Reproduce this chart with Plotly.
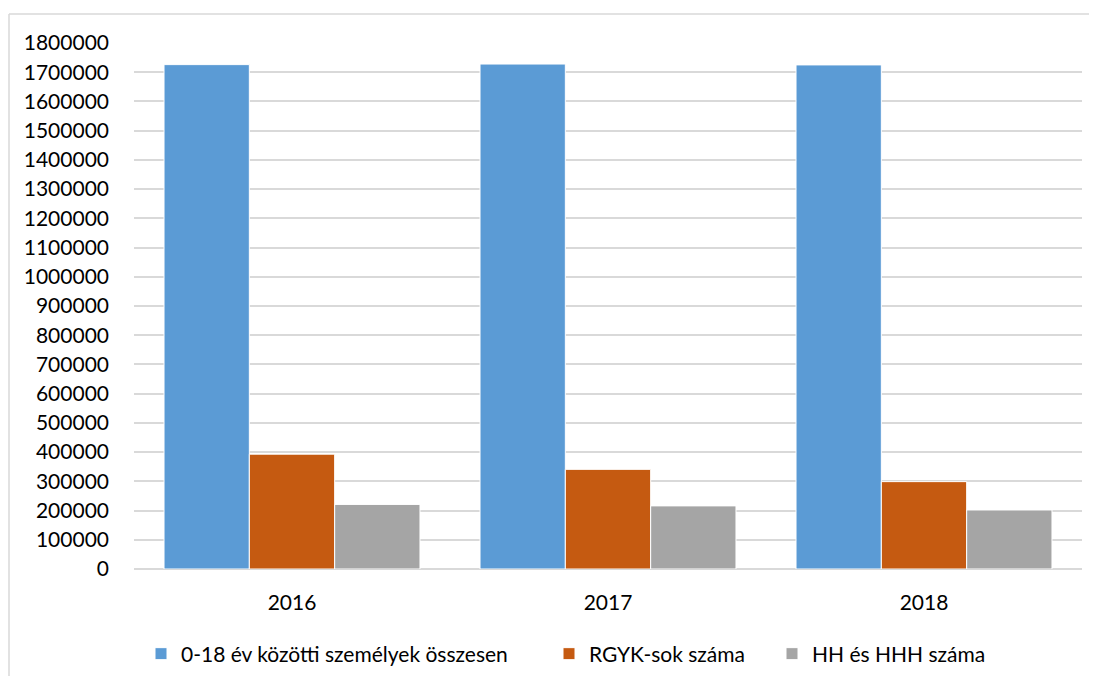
import plotly.graph_objects as go

years = ["2016", "2017", "2018"]
series_names = ["0-18 év közötti személyek összesen", "RGYK-sok száma", "HH és HHH száma"]
total_0_18 = [1726000, 1728000, 1725000]
rgyk = [393000, 341000, 299000]
hh_hhh = [221000, 216000, 202000]
colors = ["#5B9BD5", "#C55A11", "#A5A5A5"]
y_ticks = list(range(0, 1800001, 100000))

FONT = "Lato"
OFF = 8  # browser body margin
W, H = 1097 - OFF, 684 - 2 * OFF
ML, MR, MT = 134 - OFF, 15, 43 - OFF
PH_TARGET = 569 - 43
MB = H - MT - PH_TARGET
PW, PH = W - ML - MR, PH_TARGET

def px_x(px):
    # px in reference (window) coordinates
    return (px - OFF - ML) / PW

def px_y(py):
    return (569 - py) / PH

fig = go.Figure()
legends = ["legend", "legend2", "legend3"]
for name, vals, col, lg in zip(series_names, [total_0_18, rgyk, hh_hhh], colors, legends):
    fig.add_trace(go.Bar(
        x=years, y=vals, name=name,
        marker=dict(color=col, line=dict(color="white", width=1)),
        legend=lg,
    ))

leg_common = dict(orientation="h", yanchor="middle", xanchor="left",
                  font=dict(family=FONT, size=21, color="#000000"),
                  bgcolor="rgba(0,0,0,0)", borderwidth=0)
sq_centers = [160, 568, 791]
layout_leg = {}
for lg, cx in zip(legends, sq_centers):
    layout_leg[lg] = dict(leg_common, x=px_x(cx - 19), y=px_y(654))

fig.update_layout(
    width=W, height=H,
    margin=dict(l=ML, r=MR, t=MT, b=MB, autoexpand=False),
    paper_bgcolor="white", plot_bgcolor="white",
    barmode="group", bargap=0.19, bargroupgap=0.0,
    font=dict(family=FONT, size=21, color="#000000"),
    xaxis=dict(showgrid=False, showline=False, ticks="", ticklabelstandoff=19,
               tickfont=dict(family=FONT, size=21, color="#000000")),
    yaxis=dict(range=[0, 1800000], tickvals=y_ticks, ticktext=[str(v) for v in y_ticks],
               showgrid=True, gridcolor="#D9D9D9", gridwidth=1.5,
               zeroline=True, zerolinecolor="#D9D9D9", zerolinewidth=1.5,
               showline=False, ticks="", ticklabelstandoff=24,
               tickfont=dict(family=FONT, size=21, color="#000000")),
    showlegend=True,
    **layout_leg,
    shapes=[
        dict(type="line", xref="paper", yref="paper", x0=px_x(9), x1=px_x(1097), y0=px_y(14), y1=px_y(14),
             line=dict(color="#D9D9D9", width=1.5)),
        dict(type="line", xref="paper", yref="paper", x0=px_x(9), x1=px_x(9), y0=px_y(14), y1=px_y(684),
             line=dict(color="#D9D9D9", width=1.5)),
    ],
)

fig.write_html("out.html")
